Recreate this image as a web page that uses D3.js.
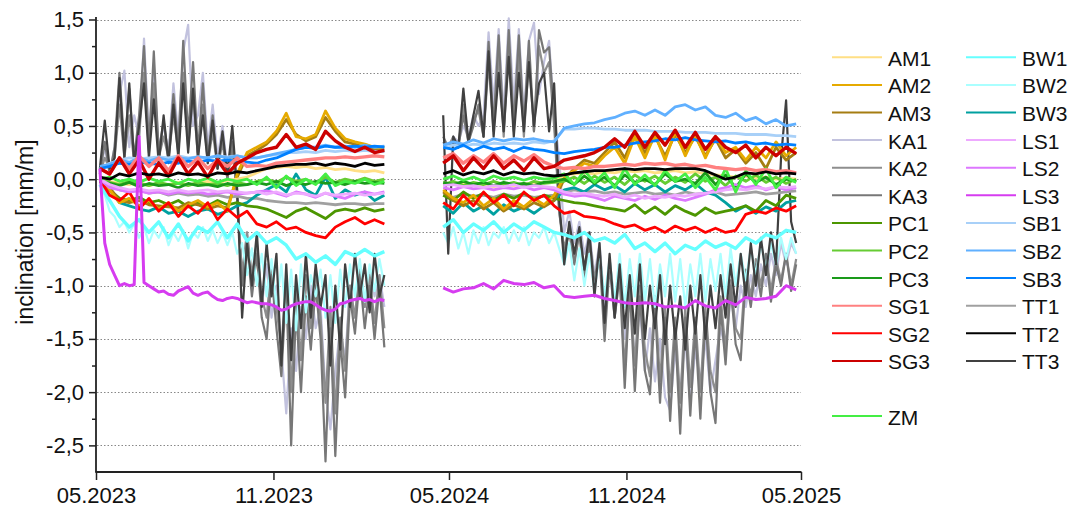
<!DOCTYPE html>
<html>
<head>
<meta charset="utf-8">
<script src="https://cdn.jsdelivr.net/npm/d3@7"></script>
<style>
  body { margin: 0; background: #fff; }
  svg { display: block; font-family: Arial, "Liberation Sans", sans-serif; }
</style>
</head>
<body>
<script>
'use strict';

// each series is stored as two measuring periods, values evenly spaced over the period
const periods = [["2023-05-05", "2024-02-24"], ["2024-04-25", "2025-04-26"]];

const AM1_a = [0.02,-0.02,-0.04,-0.05,-0.03,-0.06,-0.04,-0.05,-0.03,-0.05,-0.04,-0.02,-0.04,-0.01,0.0,0.02,0.06,0.1,0.11,0.12,0.11,0.12,0.1,0.11,0.09,0.1,0.08,0.07,0.08,0.06];
const AM1_b = [-0.03,-0.05,-0.04,-0.06,-0.05,-0.07,-0.05,-0.06,-0.04,-0.05,-0.03,-0.02,0.04,0.05,0.06,0.05,0.07,0.06,0.08,0.07,0.08,0.06,0.07,0.08,0.06,0.07,0.05,0.04,0.03,0.02,0.03,0.01,0.02,0.0,0.01,0.0];
const AM2_a = [0.0,-0.1,-0.22,-0.18,-0.25,-0.2,-0.28,-0.22,-0.3,-0.24,-0.2,-0.26,-0.22,-0.3,0.05,0.25,0.3,0.35,0.45,0.62,0.4,0.38,0.42,0.64,0.48,0.38,0.35,0.33,0.3,0.3];
const AM2_b = [-0.1,-0.18,-0.22,-0.15,-0.25,-0.18,-0.28,-0.2,-0.26,-0.18,-0.24,-0.15,0.02,0.08,0.15,0.12,0.22,0.3,0.15,0.4,0.2,0.42,0.18,0.45,0.22,0.42,0.2,0.4,0.25,0.3,0.18,0.3,0.2,0.35,0.22,0.3];
const AM3_a = [0.0,-0.08,-0.2,-0.22,-0.2,-0.24,-0.25,-0.26,-0.27,-0.22,-0.24,-0.28,-0.25,-0.27,0.02,0.22,0.27,0.33,0.42,0.56,0.42,0.36,0.4,0.58,0.45,0.35,0.33,0.3,0.28,0.27];
const AM3_b = [-0.12,-0.2,-0.25,-0.2,-0.28,-0.22,-0.3,-0.24,-0.28,-0.22,-0.26,-0.2,0.0,0.1,0.18,0.15,0.25,0.35,0.2,0.42,0.25,0.4,0.22,0.42,0.25,0.4,0.22,0.38,0.2,0.28,0.15,0.25,0.1,0.3,0.18,0.25];

const KA1_a = [0.05,0.3,0.05,0.3,0.8,1.02,0.3,0.6,0.4,1.32,0.4,1.0,0.3,0.5,0.25,0.9,0.4,1.2,1.45,0.5,0.6,1.0,0.3,0.7,0.2,0.5,0.1,0.4,-0.2,-0.9,-0.5,-1.0,-0.6,-1.2,-0.8,-1.3,-1.0,-1.6,-2.2,-1.4,-1.8,-1.2,-1.5,-1.0,-1.4,-1.2,-2.0,-2.35,-1.8,-1.4,-1.7,-1.0,-1.3,-0.9,-1.2,-0.85,-1.1,-0.9,-1.2];
const KA1_b = [0.35,0.3,0.4,0.35,0.5,0.4,0.6,0.5,0.6,1.38,0.7,1.41,0.6,1.51,0.7,1.41,0.6,1.3,1.47,0.8,1.1,1.3,0.6,0.2,-0.5,-0.3,-0.6,-0.4,-0.7,-0.5,-0.9,-0.6,-1.2,-0.8,-1.3,-0.9,-1.5,-1.1,-1.7,-1.2,-1.8,-1.4,-1.9,-1.5,-2.05,-2.17,-1.6,-2.0,-1.5,-2.1,-1.6,-1.9,-1.5,-2.0,-1.7,-1.4,-1.6,-1.1,-1.4,-1.0,-1.2,-0.9,-1.1,-0.8,-1.0,-0.7,-0.9,-0.6,-0.8,-0.6,-0.7];
const KA2_a = [0.05,0.2,0.1,0.2,0.7,0.2,0.6,0.15,0.4,1.0,0.25,0.9,0.2,0.4,0.2,0.6,0.25,1.0,0.3,0.8,0.2,0.7,0.15,0.45,0.1,0.35,0.0,0.3,-0.15,-0.9,-0.5,-0.9,-0.6,-1.1,-1.3,-0.8,-1.2,-1.6,-0.9,-2.0,-1.0,-1.7,-0.9,-1.4,-0.9,-1.3,-2.1,-1.2,-2.2,-1.3,-1.8,-1.0,-1.3,-0.8,-1.2,-0.9,-1.35,-0.9,-1.4];
const KA2_b = [0.35,0.3,0.4,0.3,0.7,0.35,0.55,0.65,0.4,1.1,0.45,1.2,0.4,1.25,0.45,1.2,0.4,1.15,0.45,1.25,1.0,1.1,0.5,-0.3,-0.65,-0.45,-0.75,-0.5,-0.9,-0.55,-0.95,-0.65,-1.4,-0.75,-1.2,-0.85,-1.8,-0.95,-1.75,-1.0,-1.6,-1.85,-1.1,-1.9,-1.2,-2.0,-1.3,-2.1,-1.2,-1.95,-1.3,-2.0,-1.2,-1.8,-2.0,-1.1,-1.6,-0.95,-1.4,-1.5,-0.85,-1.1,-0.75,-1.0,-0.7,-1.05,-0.75,-0.95,-0.7,-1.0,-0.75];
const KA3_a = [0.05,0.35,0.05,0.3,1.0,0.3,0.85,0.2,0.6,1.25,0.3,1.2,0.25,0.55,0.2,0.8,0.3,1.3,0.4,1.1,0.25,0.9,0.2,0.6,0.1,0.4,0.0,0.35,-0.2,-1.0,-0.6,-1.1,-0.7,-1.3,-1.5,-0.9,-1.4,-1.85,-1.0,-2.5,-1.2,-2.0,-1.1,-1.6,-1.0,-1.5,-2.65,-1.4,-2.6,-1.5,-2.05,-1.1,-1.45,-0.9,-1.4,-1.0,-1.5,-1.0,-1.58];
const KA3_b = [0.4,0.3,0.35,0.3,0.6,0.35,0.5,0.7,0.4,1.29,0.5,1.35,0.45,1.4,0.5,1.35,0.5,1.3,0.45,1.4,1.19,1.24,0.6,-0.3,-0.7,-0.5,-0.8,-0.5,-0.95,-0.6,-1.0,-0.7,-1.52,-0.8,-1.3,-0.9,-1.96,-1.0,-1.99,-1.1,-1.8,-2.02,-1.2,-2.1,-1.3,-2.27,-1.4,-2.39,-1.3,-2.22,-1.4,-2.25,-1.3,-2.0,-2.29,-1.2,-1.74,-1.0,-1.55,-1.7,-0.9,-1.2,-0.8,-1.1,-0.7,-1.15,-0.8,-1.0,-0.7,-1.05,-0.8];

const PC1_a = [-0.02,-0.1,-0.18,-0.2,-0.17,-0.22,-0.2,-0.24,-0.2,-0.26,-0.22,-0.25,-0.2,-0.24,-0.22,-0.25,-0.26,-0.28,-0.32,-0.36,-0.3,-0.27,-0.32,-0.37,-0.3,-0.28,-0.3,-0.27,-0.3,-0.28];
const PC1_b = [-0.15,-0.2,-0.12,-0.18,-0.13,-0.2,-0.14,-0.18,-0.13,-0.19,-0.15,-0.18,-0.2,-0.22,-0.23,-0.25,-0.27,-0.28,-0.3,-0.24,-0.32,-0.26,-0.33,-0.25,-0.3,-0.34,-0.27,-0.32,-0.3,-0.28,-0.25,-0.3,-0.2,-0.25,-0.15,-0.18];
const PC2_a = [0.0,-0.03,-0.05,-0.02,-0.04,-0.06,-0.03,-0.05,-0.04,-0.06,-0.03,-0.05,-0.04,-0.06,-0.03,-0.05,-0.02,0.0,-0.03,0.02,-0.02,0.0,-0.04,0.02,-0.03,0.0,-0.02,0.01,-0.02,0.0];
const PC2_b = [-0.05,-0.02,-0.06,-0.03,-0.05,-0.02,-0.05,-0.03,-0.06,-0.02,-0.04,-0.03,-0.02,0.02,-0.04,0.03,-0.03,0.02,-0.05,0.04,-0.02,0.03,-0.04,0.02,-0.03,0.05,-0.02,0.02,-0.06,0.03,-0.02,0.04,-0.03,0.02,-0.04,0.0];
const PC3_a = [-0.02,-0.04,-0.06,-0.03,-0.07,-0.04,-0.06,-0.05,-0.08,-0.04,-0.06,-0.05,-0.07,-0.04,-0.06,-0.05,-0.03,-0.05,-0.02,-0.06,-0.03,-0.05,-0.02,-0.04,-0.03,-0.05,-0.02,-0.04,-0.03,-0.04];
const PC3_b = [-0.03,-0.05,-0.02,-0.05,-0.03,-0.06,-0.03,-0.05,-0.04,-0.06,-0.03,-0.02,0.0,-0.05,0.03,-0.04,0.02,-0.06,0.04,-0.03,0.0,-0.05,0.05,-0.02,0.0,-0.04,0.06,-0.05,0.04,-0.08,0.05,-0.03,0.02,-0.05,0.0,-0.02];

const SG1_a = [0.1,0.05,0.2,0.1,0.22,0.12,0.2,0.08,0.22,0.12,0.2,0.1,0.18,0.12,0.2,0.12,0.13,0.12,0.15,0.16,0.17,0.18,0.19,0.2,0.2,0.21,0.2,0.21,0.22,0.21];
const SG1_b = [0.2,0.24,0.15,0.22,0.16,0.24,0.15,0.22,0.17,0.23,0.16,0.12,0.1,0.11,0.1,0.12,0.12,0.13,0.14,0.13,0.15,0.14,0.15,0.13,0.14,0.12,0.13,0.11,0.1,0.09,0.1,0.08,0.09,0.07,0.08,0.06];
const SG2_a = [0.0,-0.15,-0.2,-0.12,-0.28,-0.18,-0.3,-0.22,-0.35,-0.25,-0.32,-0.22,-0.38,-0.28,-0.36,-0.3,-0.42,-0.45,-0.4,-0.47,-0.45,-0.5,-0.53,-0.55,-0.45,-0.4,-0.36,-0.42,-0.38,-0.42];
const SG2_b = [-0.22,-0.28,-0.15,-0.25,-0.12,-0.22,-0.15,-0.25,-0.12,-0.2,-0.15,-0.25,-0.32,-0.3,-0.35,-0.36,-0.38,-0.42,-0.45,-0.43,-0.48,-0.45,-0.5,-0.44,-0.48,-0.45,-0.5,-0.46,-0.5,-0.48,-0.33,-0.3,-0.32,-0.27,-0.3,-0.25];
const SG3_a = [0.1,0.05,0.2,0.05,0.18,0.0,0.15,0.03,0.2,0.05,0.16,0.02,0.18,0.05,0.15,0.2,0.25,0.28,0.3,0.42,0.3,0.33,0.28,0.45,0.36,0.3,0.26,0.3,0.25,0.27];
const SG3_b = [0.15,0.22,0.08,0.2,0.1,0.22,0.1,0.18,0.08,0.2,0.1,0.12,0.18,0.2,0.22,0.25,0.3,0.38,0.3,0.45,0.3,0.44,0.32,0.46,0.3,0.44,0.28,0.4,0.3,0.25,0.32,0.2,0.3,0.22,0.3,0.24];

const BW1_a = [-0.05,-0.2,-0.35,-0.45,-0.38,-0.5,-0.4,-0.55,-0.42,-0.58,-0.45,-0.5,-0.4,-0.55,-0.42,-0.58,-0.5,-0.6,-0.55,-0.62,-0.75,-0.7,-0.78,-0.72,-0.8,-0.68,-0.72,-0.66,-0.72,-0.68];
const BW1_b = [-0.45,-0.38,-0.5,-0.42,-0.48,-0.4,-0.5,-0.42,-0.48,-0.4,-0.45,-0.5,-0.52,-0.55,-0.5,-0.58,-0.55,-0.6,-0.52,-0.65,-0.6,-0.68,-0.6,-0.7,-0.62,-0.66,-0.58,-0.64,-0.6,-0.65,-0.55,-0.6,-0.52,-0.55,-0.48,-0.5];
const BW2_a = [-0.05,-0.15,-0.3,-0.35,-0.45,-0.4,-0.5,-0.42,-0.55,-0.45,-0.6,-0.48,-0.55,-0.45,-0.62,-0.5,-0.58,-0.48,-0.65,-0.5,-0.55,-0.45,-0.58,-0.48,-0.6,-0.5,-0.62,-0.5,-0.7,-0.6,-0.9,-0.65,-1.0,-0.7,-1.1,-0.75,-1.2,-0.8,-1.35,-0.85,-1.42,-0.8,-1.25,-0.9,-1.1,-0.85,-1.3,-0.9,-1.35,-0.85,-1.2,-0.8,-1.1,-0.75,-1.15,-0.8,-1.05,-0.75,-1.0];
const BW2_b = [-0.5,-0.6,-0.45,-0.65,-0.5,-0.7,-0.48,-0.6,-0.45,-0.62,-0.5,-0.55,-0.45,-0.6,-0.48,-0.58,-0.45,-0.62,-0.5,-0.55,-0.45,-0.6,-0.5,-0.65,-0.8,-0.6,-0.95,-0.65,-1.0,-0.7,-1.05,-0.7,-1.1,-0.75,-1.15,-0.7,-1.2,-0.75,-1.1,-0.7,-1.15,-0.75,-1.2,-0.8,-1.1,-0.7,-1.15,-0.75,-1.2,-0.8,-1.1,-0.7,-1.15,-0.75,-1.05,-0.7,-1.1,-0.65,-1.0,-0.7,-0.95,-0.65,-0.9,-0.6,-0.85,-0.6,-0.8,-0.55,-0.75,-0.55,-0.7];
const BW3_a = [-0.02,-0.1,-0.22,-0.25,-0.28,-0.3,-0.26,-0.32,-0.3,-0.35,-0.3,-0.28,-0.33,-0.3,-0.25,-0.22,-0.15,-0.1,-0.05,-0.12,0.05,-0.1,-0.15,0.02,-0.18,-0.1,-0.15,-0.12,-0.2,-0.15];
const BW3_b = [-0.25,-0.32,-0.22,-0.3,-0.25,-0.33,-0.24,-0.3,-0.26,-0.32,-0.25,-0.2,-0.1,-0.08,-0.12,-0.05,-0.1,-0.06,-0.12,-0.04,-0.1,-0.05,-0.12,-0.06,-0.1,-0.04,-0.12,-0.15,-0.22,-0.3,-0.25,-0.32,-0.26,-0.3,-0.22,-0.2];

const LS1_a = [0.0,-0.05,-0.08,-0.1,-0.09,-0.11,-0.1,-0.12,-0.1,-0.12,-0.11,-0.1,-0.12,-0.11,-0.12,-0.13,-0.12,-0.14,-0.12,-0.15,-0.13,-0.14,-0.16,-0.13,-0.15,-0.14,-0.13,-0.15,-0.14,-0.13];
const LS1_b = [-0.06,-0.05,-0.07,-0.06,-0.08,-0.06,-0.07,-0.05,-0.08,-0.06,-0.07,-0.08,-0.12,-0.14,-0.13,-0.15,-0.16,-0.14,-0.17,-0.15,-0.18,-0.16,-0.17,-0.15,-0.16,-0.14,-0.13,-0.12,-0.1,-0.09,-0.1,-0.08,-0.09,-0.07,-0.08,-0.07];
const LS2_a = [0.0,-0.08,-0.1,-0.12,-0.11,-0.13,-0.12,-0.14,-0.12,-0.13,-0.12,-0.14,-0.13,-0.12,-0.14,-0.13,-0.12,-0.11,-0.13,-0.16,-0.12,-0.14,-0.17,-0.13,-0.16,-0.18,-0.14,-0.12,-0.14,-0.12];
const LS2_b = [-0.08,-0.1,-0.07,-0.09,-0.08,-0.1,-0.08,-0.09,-0.07,-0.1,-0.08,-0.1,-0.14,-0.16,-0.15,-0.17,-0.2,-0.16,-0.18,-0.2,-0.16,-0.19,-0.15,-0.18,-0.2,-0.17,-0.14,-0.1,-0.08,-0.05,-0.08,-0.06,-0.1,-0.07,-0.1,-0.08];
const LS3_a = [0.1,-0.6,-0.8,-0.9,-1.0,-0.98,-1.0,-0.99,0.4,-0.97,-1.0,-1.03,-1.06,-1.05,-1.08,-1.09,-1.05,-1.03,-1.01,-1.07,-1.09,-1.07,-1.06,-1.1,-1.13,-1.14,-1.12,-1.11,-1.12,-1.14,-1.16,-1.15,-1.16,-1.17,-1.17,-1.18,-1.2,-1.23,-1.22,-1.19,-1.17,-1.16,-1.15,-1.15,-1.18,-1.21,-1.23,-1.24,-1.22,-1.17,-1.16,-1.14,-1.13,-1.12,-1.14,-1.13,-1.15,-1.13,-1.14];
const LS3_b = [-1.02,-1.06,-1.03,-1.02,-0.98,-1.03,-0.95,-0.98,-0.99,-0.97,-1.02,-1.0,-1.1,-1.11,-1.1,-1.09,-1.12,-1.14,-1.16,-1.17,-1.16,-1.17,-1.2,-1.19,-1.21,-1.14,-1.19,-1.21,-1.14,-1.18,-1.11,-1.13,-1.12,-1.1,-1.0,-1.04];

const SB1_a = [0.1,0.15,0.18,0.2,0.19,0.2,0.21,0.2,0.22,0.2,0.21,0.2,0.22,0.21,0.22,0.2,0.2,0.22,0.23,0.25,0.25,0.26,0.25,0.27,0.26,0.27,0.26,0.27,0.26,0.26];
const SB1_b = [0.3,0.32,0.31,0.33,0.32,0.34,0.33,0.34,0.33,0.35,0.34,0.36,0.47,0.47,0.48,0.48,0.47,0.47,0.46,0.46,0.46,0.45,0.45,0.45,0.44,0.44,0.44,0.43,0.43,0.43,0.42,0.42,0.42,0.41,0.41,0.4];
const SB2_a = [0.12,0.14,0.18,0.16,0.2,0.17,0.2,0.18,0.2,0.19,0.21,0.2,0.22,0.2,0.22,0.2,0.2,0.22,0.24,0.26,0.28,0.3,0.3,0.32,0.3,0.31,0.3,0.32,0.3,0.31];
const SB2_b = [0.32,0.35,0.33,0.37,0.34,0.38,0.36,0.38,0.37,0.38,0.36,0.35,0.48,0.5,0.52,0.53,0.56,0.58,0.62,0.64,0.6,0.65,0.6,0.68,0.7,0.65,0.68,0.6,0.58,0.62,0.55,0.58,0.52,0.56,0.5,0.52];
const SB3_a = [0.1,0.12,0.15,0.14,0.16,0.15,0.14,0.16,0.15,0.17,0.16,0.18,0.17,0.18,0.17,0.16,0.15,0.18,0.2,0.24,0.28,0.3,0.29,0.31,0.3,0.3,0.31,0.3,0.31,0.3];
const SB3_b = [0.3,0.28,0.32,0.27,0.31,0.28,0.3,0.26,0.3,0.28,0.27,0.25,0.24,0.26,0.27,0.28,0.3,0.3,0.32,0.34,0.35,0.36,0.38,0.37,0.39,0.37,0.36,0.35,0.36,0.34,0.35,0.33,0.34,0.32,0.33,0.32];

const TT1_a = [0.0,-0.05,-0.1,-0.12,-0.1,-0.13,-0.12,-0.15,-0.13,-0.15,-0.14,-0.16,-0.15,-0.17,-0.16,-0.18,-0.18,-0.2,-0.21,-0.22,-0.22,-0.23,-0.22,-0.23,-0.24,-0.23,-0.23,-0.24,-0.23,-0.23];
const TT1_b = [-0.15,-0.17,-0.14,-0.16,-0.15,-0.17,-0.14,-0.16,-0.15,-0.17,-0.16,-0.15,-0.12,-0.1,-0.12,-0.11,-0.13,-0.12,-0.14,-0.13,-0.12,-0.14,-0.13,-0.15,-0.12,-0.14,-0.13,-0.12,-0.15,-0.14,-0.13,-0.12,-0.14,-0.13,-0.12,-0.11];
const TT2_a = [0.02,0.0,0.05,0.03,0.06,0.04,0.05,0.03,0.06,0.04,0.05,0.03,0.06,0.05,0.07,0.06,0.08,0.1,0.12,0.13,0.14,0.14,0.15,0.13,0.15,0.14,0.12,0.15,0.13,0.14];
const TT2_b = [0.05,0.08,0.04,0.07,0.05,0.08,0.04,0.07,0.05,0.06,0.04,0.03,0.04,0.06,0.07,0.08,0.08,0.09,0.1,0.09,0.1,0.1,0.09,0.1,0.1,0.1,0.08,0.04,0.0,0.02,0.06,0.05,0.07,0.05,0.06,0.05];
const TT3_a = [0.1,0.55,0.1,0.2,0.95,0.2,0.9,0.15,0.5,0.9,0.2,0.75,0.15,0.6,0.15,0.7,0.2,0.9,0.25,0.85,0.2,0.6,0.15,0.55,0.1,0.45,0.05,0.5,-0.1,-1.3,-0.6,-1.0,-0.5,-1.2,-0.6,-1.1,-0.7,-1.75,-0.8,-1.7,-0.9,-1.4,-0.7,-1.3,-0.8,-1.2,-0.9,-1.75,-1.0,-1.6,-0.8,-1.2,-0.7,-1.1,-0.8,-1.25,-0.7,-1.1,-0.9];
const TT3_b = [0.6,-0.7,0.4,0.3,0.85,0.35,0.6,0.83,0.4,1.2,0.4,1.0,0.45,1.15,0.4,1.0,0.45,1.1,0.5,0.9,1.0,0.45,0.9,-0.2,-0.8,-0.4,-0.7,-0.45,-0.85,-0.5,-1.1,-0.6,-1.35,-0.7,-1.3,-0.8,-1.4,-0.9,-1.45,-0.8,-1.5,-1.0,-1.4,-0.9,-1.55,-1.0,-1.5,-1.1,-1.6,-1.0,-1.45,-0.9,-1.5,-1.0,-1.4,-0.9,-1.3,-0.8,-1.2,-0.7,-1.1,-0.6,-1.0,-0.55,-0.9,-0.5,-0.8,0.2,0.74,-0.4,-0.6];

const ZM_a = [0.0,0.02,-0.02,0.0,-0.03,0.01,-0.02,0.0,-0.04,0.0,-0.02,0.01,-0.03,0.0,-0.02,0.0,-0.05,0.02,-0.08,0.03,-0.06,0.0,-0.05,0.05,-0.06,-0.02,-0.04,0.0,-0.05,-0.02];
const ZM_b = [0.0,0.03,-0.01,0.02,-0.02,0.03,0.0,0.02,-0.01,0.02,0.0,0.01,0.05,-0.05,0.08,-0.03,0.06,-0.08,0.1,-0.05,0.04,-0.06,0.08,-0.02,0.05,-0.08,0.02,-0.1,0.1,-0.12,0.08,-0.05,0.1,-0.08,0.02,-0.03];

// legend columns (null = empty row)
const legendCol1 = ["AM1","AM2","AM3","KA1","KA2","KA3","PC1","PC2","PC3","SG1","SG2","SG3",null,"ZM"];
const legendCol2 = ["BW1","BW2","BW3","LS1","LS2","LS3","SB1","SB2","SB3","TT1","TT2","TT3"];

// drawing order, back to front
const drawOrder = ["KA1","KA2","KA3","BW2","TT3","TT1","BW1","BW3","PC1","AM3","AM2","AM1","SG2","PC2","PC3","LS2","LS1","ZM","SB1","SB2","SB3","SG1","SG3","TT2","LS3"];

const yTicks = [1.5,1.0,0.5,0.0,-0.5,-1.0,-1.5,-2.0,-2.5];
const yMinorTicks = [1.25,0.75,0.25,-0.25,-0.75,-1.25,-1.75,-2.25];
const xTicks = ["2023-05-01","2023-11-01","2024-05-01","2024-11-01","2025-05-01"];
const xTickLabels = ["05.2023","11.2023","05.2024","11.2024","05.2025"];

const colors = {
  AM1: "#ffdf85", AM2: "#e6aa00", AM3: "#a57d12",
  KA1: "#c2c2de", KA2: "#8e8e8e", KA3: "#777777",
  PC1: "#4c9600", PC2: "#66cc33", PC3: "#1a9a1a",
  SG1: "#ff8080", SG2: "#ff0000", SG3: "#cc0000",
  BW1: "#66ffff", BW2: "#aaffff", BW3: "#00a0a0",
  LS1: "#eeaaff", LS2: "#dd77ff", LS3: "#d63cf0",
  SB1: "#a8d0f8", SB2: "#60b0ff", SB3: "#0080ff",
  TT1: "#a0a0a0", TT2: "#000000", TT3: "#404040",
  ZM: "#44ee44"
};

(function() {

  const width = 1071;
  const height = 510;

  // table of series built from the arrays above
  const series = {
    AM1: [AM1_a, AM1_b], AM2: [AM2_a, AM2_b], AM3: [AM3_a, AM3_b],
    KA1: [KA1_a, KA1_b], KA2: [KA2_a, KA2_b], KA3: [KA3_a, KA3_b],
    PC1: [PC1_a, PC1_b], PC2: [PC2_a, PC2_b], PC3: [PC3_a, PC3_b],
    SG1: [SG1_a, SG1_b], SG2: [SG2_a, SG2_b], SG3: [SG3_a, SG3_b],
    BW1: [BW1_a, BW1_b], BW2: [BW2_a, BW2_b], BW3: [BW3_a, BW3_b],
    LS1: [LS1_a, LS1_b], LS2: [LS2_a, LS2_b], LS3: [LS3_a, LS3_b],
    SB1: [SB1_a, SB1_b], SB2: [SB2_a, SB2_b], SB3: [SB3_a, SB3_b],
    TT1: [TT1_a, TT1_b], TT2: [TT2_a, TT2_b], TT3: [TT3_a, TT3_b],
    ZM: [ZM_a, ZM_b]
  };
  const spiky = ["KA1", "KA2", "KA3", "TT3", "BW2"];

  const parse = d3.utcParse("%Y-%m-%d");

  const svg = d3.select("body").append("svg")
    .attr("width", width)
    .attr("height", height);

  const x = d3.scaleUtc()
    .domain([parse("2023-05-01"), parse("2025-05-01")])
    .range([96, 801]);

  const y = d3.scaleLinear()
    .domain([-2.75, 1.5])
    .range([472, 19.5]);

  // dotted grid at the major ticks
  svg.append("g")
    .selectAll("line")
    .data(yTicks)
    .enter()
    .append("line")
      .attr("x1", 97)
      .attr("x2", 801)
      .attr("y1", (d) => Math.round(y(d)) + 0.5)
      .attr("y2", (d) => Math.round(y(d)) + 0.5)
      .attr("stroke", "#888")
      .attr("stroke-width", 1)
      .attr("stroke-dasharray", "1.5,2");

  // turn one period's array into dated points
  function toPoints(values, period) {
    let t0 = parse(period[0]).getTime();
    let t1 = parse(period[1]).getTime();
    let step = (t1 - t0) / (values.length - 1);
    return values.map((v, i) => ({ t: new Date(t0 + i * step), v: v }));
  }

  // line widths: the logger traces are noisy, so draw them as thick bands
  function strokeWidth(name) {
    if (name == "LS3") return 3;
    if (spiky.includes(name)) return 2.2;
    if (name == "SG1" || name == "SG3" || name == "BW1") return 3.4;
    return 2.8;
  }

  let line = d3.line()
    .x((d) => x(d.t))
    .y((d) => y(d.v));

  let plot = svg.append("g");
  drawOrder.forEach((name) => {
    series[name].forEach((values, k) => {
      plot.append("path")
        .datum(toPoints(values, periods[k]))
        .attr("fill", "none")
        .attr("stroke", colors[name])
        .attr("stroke-width", strokeWidth(name))
        .attr("stroke-linejoin", "round")
        .attr("d", line);
    });
  });

  // y axis: major ticks with labels, minor ticks without
  let yAxis = d3.axisLeft(y)
    .tickValues(yTicks)
    .tickSize(7)
    .tickPadding(5)
    .tickFormat((d) => d3.format(".1f")(d).replace(".", ",").replace("−", "-"));
  svg.append("g")
    .attr("transform", "translate(96, 0)")
    .call(yAxis);
  svg.append("g")
    .attr("transform", "translate(96, 0)")
    .call(d3.axisLeft(y).tickValues(yMinorTicks).tickSize(4).tickFormat(""));

  // x axis
  let xAxis = d3.axisBottom(x)
    .tickValues(xTicks.map(parse))
    .tickSize(8)
    .tickPadding(7)
    .tickFormat((d, i) => xTickLabels[i]);
  svg.append("g")
    .attr("transform", "translate(0, 472)")
    .call(xAxis);

  svg.selectAll(".domain").remove();
  svg.selectAll(".tick line").attr("stroke", "#222").attr("stroke-width", 1.5);
  svg.selectAll(".tick text")
    .attr("fill", "#111")
    .style("font-size", "22px")
    .style("font-family", "Arial, 'Liberation Sans', sans-serif");

  // axis lines
  svg.append("line")
    .attr("x1", 96).attr("x2", 96)
    .attr("y1", 17).attr("y2", 472.5)
    .attr("stroke", "#222").attr("stroke-width", 1.8);
  svg.append("line")
    .attr("x1", 95.5).attr("x2", 801.5)
    .attr("y1", 472).attr("y2", 472)
    .attr("stroke", "#222").attr("stroke-width", 1.8);

  // axis title
  svg.append("text")
    .attr("transform", "translate(33, 232)rotate(-90)")
    .attr("text-anchor", "middle")
    .attr("fill", "#111")
    .style("font-size", "23px")
    .text("inclination [mm/m]");

  // legend
  function drawLegendColumn(names, lineX, textX) {
    names.forEach((name, row) => {
      if (name == null) return;
      let ly = 57.3 + row * 27.6;
      svg.append("line")
        .attr("x1", lineX).attr("x2", lineX + 50)
        .attr("y1", ly).attr("y2", ly)
        .attr("stroke", colors[name])
        .attr("stroke-width", 2);
      svg.append("text")
        .attr("x", textX)
        .attr("y", ly + 8.5)
        .attr("fill", "#111")
        .style("font-size", "21px")
        .text(name);
    });
  }
  drawLegendColumn(legendCol1, 832, 888);
  drawLegendColumn(legendCol2, 966, 1022);

})();
</script>
</body>
</html>
